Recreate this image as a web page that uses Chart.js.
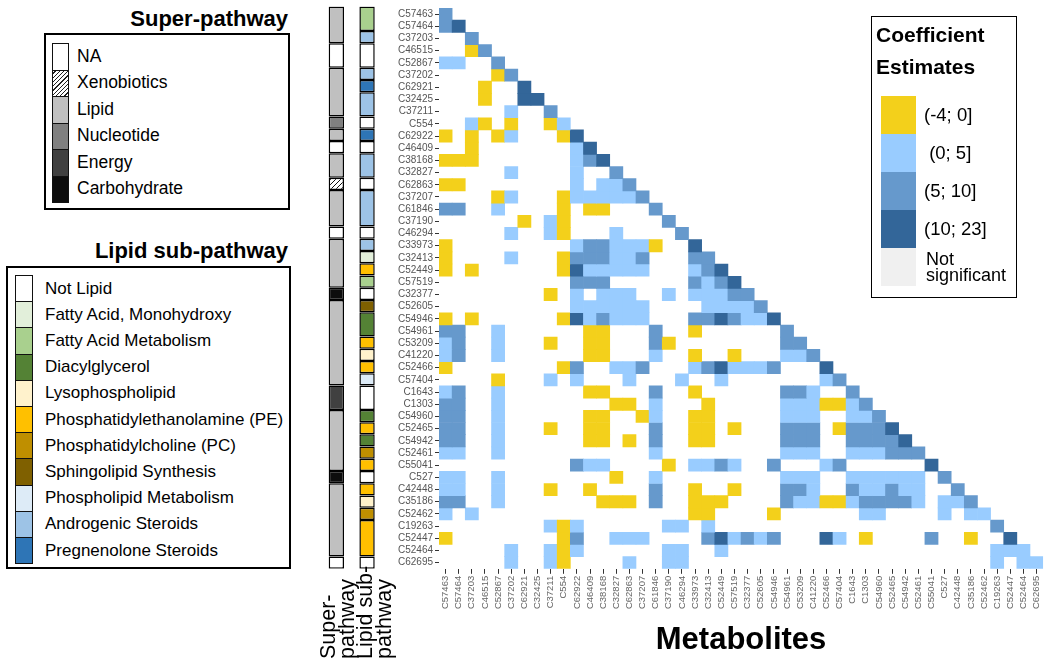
<!DOCTYPE html>
<html>
<head>
<meta charset="utf-8">
<script src="https://cdn.jsdelivr.net/npm/chart.js@4.4.0/dist/chart.umd.min.js"></script>
<style>
  body { margin: 0; background: #fff; font-family: "Liberation Sans", Arial, sans-serif; }
  #page { position: relative; width: 1050px; height: 665px; overflow: hidden; }
  .abs { position: absolute; }
  .box { position: absolute; border: 2px solid #000; box-sizing: border-box; }
  .ttl { position: absolute; font-weight: bold; color: #000; white-space: nowrap; }
  .sw { position: absolute; box-sizing: border-box; border: 1px solid #111; }
  .lbl { position: absolute; color: #000; white-space: pre; line-height: 1; }
  .rot { position: absolute; transform: rotate(-90deg); transform-origin: 0 0; font-size: 21.5px; line-height: 19px; white-space: nowrap; color: #000; }
</style>
</head>
<body>
<div id="page">
  <div class="abs" style="left:380px;top:0;width:670px;height:665px"><canvas id="heat" width="670" height="665"></canvas></div>
  <div class="abs" style="left:300px;top:0;width:90px;height:665px"><canvas id="ann" width="90" height="665"></canvas></div>

  <div class="ttl" style="left:0;width:288px;top:6px;text-align:right;font-size:22px">Super-pathway</div>
  <div class="box" style="left:44px;top:33px;width:246px;height:177px"></div>
  <div id="superLegend"></div>

  <div class="ttl" style="left:0;width:288px;top:238px;text-align:right;font-size:22px">Lipid sub-pathway</div>
  <div class="box" style="left:6px;top:266px;width:285px;height:303px"></div>
  <div id="lipidLegend"></div>

  <div class="box" style="left:871px;top:16px;width:146px;height:282px;border-width:1.5px"></div>
  <div class="ttl" style="left:876px;top:19px;font-size:21px;line-height:32px">Coefficient<br>Estimates</div>
  <div id="coefLegend"></div>

  <div class="rot" style="left:319px;top:659px">Super-<br>pathway</div>
  <div class="rot" style="left:356px;top:659px">Lipid sub-<br>pathway</div>
</div>

<script>
// metabolites, same order for rows and columns
const metabolites = ['C57463','C57464','C37203','C46515','C52867','C37202','C62921','C32425','C37211','C554',
  'C62922','C46409','C38168','C32827','C62863','C37207','C61846','C37190','C46294','C33973',
  'C32413','C52449','C57519','C32377','C52605','C54946','C54961','C53209','C41220','C52466',
  'C57404','C1643','C1303','C54960','C52465','C54942','C52461','C55041','C527','C42448',
  'C35186','C52462','C19263','C52447','C52464','C62695'];

const superCategories = ['NA','Xenobiotics','Lipid','Nucleotide','Energy','Carbohydrate'];
const lipidCategories = ['Not Lipid','Fatty Acid, Monohydroxy','Fatty Acid Metabolism','Diacylglycerol',
  'Lysophospholipid','Phosphatidylethanolamine (PE)','Phosphatidylcholine (PC)','Sphingolipid Synthesis',
  'Phospholipid Metabolism','Androgenic Steroids','Pregnenolone Steroids'];
const coefBinLabels = ['Not significant','(-4; 0]',' (0; 5]','(5; 10]','(10; 23]'];

const superPathway = ['Lipid','Lipid','Lipid','NA','NA','Lipid','Lipid','Lipid','Lipid','Nucleotide',
  'Lipid','NA','Lipid','Lipid','Xenobiotics','Lipid','Lipid','Lipid','NA','Lipid',
  'Lipid','Lipid','Lipid','Carbohydrate','Lipid','Lipid','Lipid','Lipid','Lipid','Lipid',
  'Lipid','Energy','Energy','Lipid','Lipid','Lipid','Lipid','Lipid','Carbohydrate','Lipid',
  'Lipid','Lipid','Lipid','Lipid','Lipid','NA'];

const lipidSubPathway = ['Fatty Acid Metabolism','Fatty Acid Metabolism','Androgenic Steroids','Not Lipid','Not Lipid',
  'Androgenic Steroids','Pregnenolone Steroids','Androgenic Steroids','Androgenic Steroids','Not Lipid',
  'Pregnenolone Steroids','Not Lipid','Androgenic Steroids','Androgenic Steroids','Not Lipid',
  'Androgenic Steroids','Androgenic Steroids','Androgenic Steroids','Not Lipid','Androgenic Steroids',
  'Fatty Acid, Monohydroxy','Phosphatidylethanolamine (PE)','Fatty Acid Metabolism','Not Lipid','Sphingolipid Synthesis',
  'Diacylglycerol','Diacylglycerol','Phosphatidylethanolamine (PE)','Lysophospholipid','Phosphatidylethanolamine (PE)',
  'Phospholipid Metabolism','Not Lipid','Not Lipid','Diacylglycerol','Phosphatidylethanolamine (PE)',
  'Diacylglycerol','Phosphatidylcholine (PC)','Phosphatidylethanolamine (PE)','Not Lipid','Phosphatidylethanolamine (PE)',
  'Lysophospholipid','Phosphatidylcholine (PC)','Phosphatidylethanolamine (PE)','Phosphatidylethanolamine (PE)','Phosphatidylethanolamine (PE)',
  'Not Lipid'];

// coefficient bin per cell, lower triangle, one string per row (0 = not significant, 1..4 = bins)
const coefBins = [
  '3',
  '34',
  '003',
  '0013',
  '22003',
  '00001 3',
  '00010 04',
  '00010 044',
  '00000 2003',
  '00210 10012',
  '10101 20001 4',
  '00100 00000 24',
  '11100 00000 234',
  '00000 20000 2003',
  '11000 00000 20223',
  '00001 20001 22222 3',
  '33002 00001 01100 03',
  '00000 01021 00000 003',
  '00000 20021 00020 0003',
  '10000 00000 23322 21004',
  '10000 20001 33322 30003 3',
  '10100 00001 42222 20002 34',
  '00000 00000 33300 00003 234',
  '00000 00010 20222 00202 2233',
  '00000 00000 22222 20000 22223',
  '10100 00001 42322 20003 34322 4',
  '33002 00000 01100 03001 00000 03',
  '23002 00010 01100 03100 00000 033',
  '23002 00000 01100 02001 00100 0223',
  '10000 00001 30022 30002 34222 30004',
  '00001 00020 20002 00020 02000 00002 3',
  '23002 00000 01100 03001 00000 03320 03',
  '33002 00000 00011 02000 10000 02221 123',
  '33002 00000 01100 12001 10000 02220 0223',
  '33002 00010 01100 03001 10100 03330 13334',
  '33002 00000 01101 03001 10000 03330 03333 4',
  '22002 00000 00000 02000 00000 02220 02223 33',
  '00000 00000 32200 00102 23200 30002 30000 004',
  '22002 00000 00010 02000 00000 02220 02222 2203',
  '22002 00010 01000 03001 00100 03320 03223 22003',
  '33002 00000 00111 03001 11000 03221 12333 32022 3',
  '20200 00000 00000 00001 10000 10000 00220 00020 22',
  '00000 00021 20000 00220 20000 00000 00000 00000 003',
  '10000 00001 30022 20000 34232 30004 20100 00300 1004',
  '00000 20021 20000 00220 02000 00000 00000 00000 00222',
  '00000 20021 00002 00220 00000 00000 00000 00000 002022'
];

// colours
const binColors = ['#f0f0f0', '#f3d01b', '#99ccff', '#6699cc', '#336699'];
const superColors = { 'NA': '#ffffff', 'Lipid': '#c0c0c0', 'Nucleotide': '#808080', 'Energy': '#404040', 'Carbohydrate': '#0d0d0d' };
const lipidColors = {
  'Not Lipid': '#ffffff', 'Fatty Acid, Monohydroxy': '#e2efda', 'Fatty Acid Metabolism': '#a9d08e',
  'Diacylglycerol': '#548235', 'Lysophospholipid': '#fff2cc', 'Phosphatidylethanolamine (PE)': '#ffc000',
  'Phosphatidylcholine (PC)': '#bf8f00', 'Sphingolipid Synthesis': '#7f6000', 'Phospholipid Metabolism': '#ddebf7',
  'Androgenic Steroids': '#9dc3e6', 'Pregnenolone Steroids': '#2e75b6'
};
const hatchCss = 'repeating-linear-gradient(-45deg, #fff 0 2px, #222 2px 3px)';

function hatchPattern() {
  const c = document.createElement('canvas');
  c.width = 5; c.height = 5;
  const g = c.getContext('2d');
  g.fillStyle = '#fff'; g.fillRect(0, 0, 5, 5);
  g.strokeStyle = '#111'; g.lineWidth = 1;
  g.beginPath();
  g.moveTo(-1, 6); g.lineTo(6, -1);
  g.moveTo(-1, 1); g.lineTo(1, -1);
  g.moveTo(4, 6); g.lineTo(6, 4);
  g.stroke();
  return g.createPattern(c, 'repeat');
}
superColors['Xenobiotics'] = hatchPattern();

Chart.defaults.font.family = '"Liberation Sans", Arial, sans-serif';

// ---------- heatmap ----------
const cleanBins = coefBins.map(s => s.replace(/ /g, ''));
const heatDatasets = metabolites.map((name, r) => ({
  label: name,
  yAxisID: 'yv',
  data: metabolites.map((_, c) => (c <= r && Number(cleanBins[r][c]) > 0) ? [r - 0.5, r + 0.5] : null),
  backgroundColor: ctx => binColors[Number(cleanBins[r][ctx.dataIndex]) || 0],
  borderWidth: 0,
  barPercentage: 1,
  categoryPercentage: 1,
  grouped: false
}));

new Chart(document.getElementById('heat'), {
  type: 'bar',
  data: { labels: metabolites, datasets: heatDatasets },
  options: {
    responsive: false,
    animation: false,
    layout: { padding: { top: 6.6, right: 5, left: 0, bottom: 0 }, autoPadding: false },
    plugins: { legend: { display: false }, tooltip: { enabled: false } },
    scales: {
      x: {
        type: 'category',
        offset: true,
        border: { display: false },
        grid: { offset: false, drawOnChartArea: false, tickLength: 5, tickColor: '#333' },
        ticks: { autoSkip: false, minRotation: 90, maxRotation: 90, padding: 2, color: '#666', font: { size: 9.5 } },
        title: {
          display: true, text: 'Metabolites', color: '#000',
          font: { size: 31, weight: 'bold' },
          padding: { top: 0, bottom: 6 }
        },
        afterFit: s => { s.height = 96.2; }
      },
      y: {
        type: 'category',
        labels: metabolites,
        position: 'left',
        offset: true,
        border: { display: false },
        grid: { drawOnChartArea: false, tickLength: 4, tickColor: '#333' },
        ticks: { autoSkip: false, padding: 2, color: '#555', font: { size: 10 } },
        afterFit: s => { s.width = 59; }
      },
      yv: { type: 'linear', display: false, min: -0.5, max: 45.5, reverse: true }
    }
  }
});

// ---------- annotation columns ----------
function runs(arr) {
  const out = [];
  arr.forEach((v, i) => {
    const last = out[out.length - 1];
    if (last && last.cat === v) last.end = i;
    else out.push({ cat: v, start: i, end: i });
  });
  return out;
}
const superRuns = runs(superPathway);
const lipidRuns = runs(lipidSubPathway);
const annDatasets = [];
for (let k = 0; k < Math.max(superRuns.length, lipidRuns.length); k++) {
  const cols = [superRuns[k], lipidRuns[k]];
  annDatasets.push({
    data: cols.map(run => run ? [run.start - 0.5, run.end + 0.5] : null),
    backgroundColor: ctx => {
      const run = cols[ctx.dataIndex];
      if (!run) return 'rgba(0,0,0,0)';
      return ctx.dataIndex === 0 ? superColors[run.cat] : lipidColors[run.cat];
    },
    borderColor: '#000',
    borderWidth: 1.5,
    borderSkipped: false,
    barPercentage: 0.5,
    categoryPercentage: 1,
    grouped: false
  });
}

new Chart(document.getElementById('ann'), {
  type: 'bar',
  data: { labels: ['Super-pathway', 'Lipid sub-pathway'], datasets: annDatasets },
  options: {
    responsive: false,
    animation: false,
    layout: { padding: { top: 6.6, right: 7.6, left: 21, bottom: 96.2 }, autoPadding: false },
    plugins: { legend: { display: false }, tooltip: { enabled: false } },
    scales: {
      x: { type: 'category', display: false, offset: true },
      y: { type: 'linear', display: false, min: -0.5, max: 45.5, reverse: true }
    }
  }
});

// ---------- html legends ----------
function addSwatches(host, items, opt) {
  let html = '';
  items.forEach((name, i) => {
    const top = opt.top + i * opt.h;
    const bg = name === 'Xenobiotics' ? hatchCss : opt.colors[name];
    html += `<div class="sw" style="left:${opt.left}px;top:${top}px;width:${opt.w}px;height:${opt.h + 1}px;background:${bg};border-width:${opt.bw}px"></div>`;
    html += `<div class="lbl" style="left:${opt.textLeft}px;top:${top + opt.h / 2 - opt.fs / 2}px;font-size:${opt.fs}px">${name}</div>`;
  });
  host.innerHTML = html;
}

addSwatches(document.getElementById('superLegend'), superCategories,
  { left: 52, top: 43, w: 17, h: 26.5, colors: superColors, textLeft: 77, fs: 17.5, bw: 1.5 });
addSwatches(document.getElementById('lipidLegend'), lipidCategories,
  { left: 15, top: 275, w: 18, h: 26.2, colors: lipidColors, textLeft: 45, fs: 17, bw: 1.5 });

(function coefLegend() {
  const order = [1, 2, 3, 4, 0];
  let html = '';
  order.forEach((b, i) => {
    const top = 96 + i * 38;
    html += `<div class="abs" style="left:881px;top:${top}px;width:35px;height:38px;background:${binColors[b]}"></div>`;
    if (b === 0) {
      html += `<div class="lbl" style="left:926px;top:${top + 3}px;font-size:18px;line-height:16px">Not<br>significant</div>`;
    } else {
      html += `<div class="lbl" style="left:924px;top:${top + 10}px;font-size:18.5px">${coefBinLabels[b]}</div>`;
    }
  });
  document.getElementById('coefLegend').innerHTML = html;
})();
</script>
</body>
</html>
